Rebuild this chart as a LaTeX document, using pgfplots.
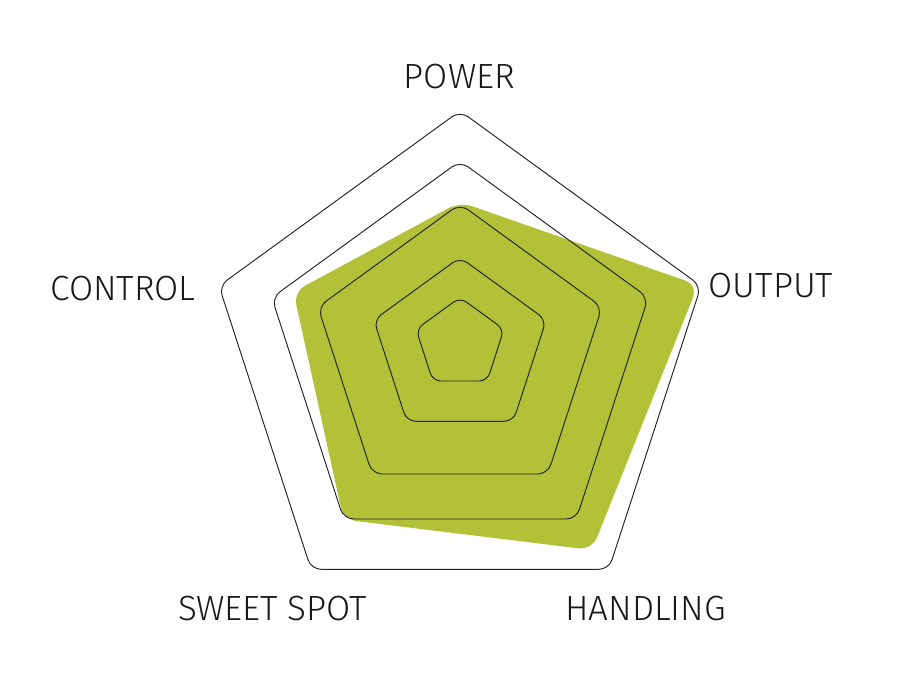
\documentclass[border=0pt]{standalone}
\usepackage{pgfplots}
\pgfplotsset{compat=1.18}
\usepackage{fontspec}
\IfFontExistsTF{Fira Sans Light}{\setmainfont{Fira Sans Light}}{\setmainfont{Fira Sans}}
\definecolor{chartgreen}{RGB}{178,193,55}
\definecolor{gridline}{RGB}{35,35,35}
\definecolor{labeltext}{RGB}{25,25,25}
\begin{document}
\begin{tikzpicture}
\path (0,0) rectangle (916bp,676bp);
\begin{axis}[at={(0,0)}, anchor=south west, scale only axis,
  width=916bp, height=676bp,
  xmin=0, xmax=916, ymin=0, ymax=676, y dir=reverse,
  hide axis, clip=false]
% data polygon (HANDLING, OUTPUT, POWER, CONTROL, SWEET SPOT), starting mid-edge
\addplot[fill=chartgreen, draw=none, mark=none, rounded corners=13bp] coordinates {
  (467.75,534.75) (592,550) (698,285) (460,202) (293.5,292) (343.5,519.5)} -- cycle;
% grid pentagons
\addplot[draw=gridline, line width=0.95bp, mark=none, rounded corners=10bp] coordinates {
  (460,569.3) (608.9,569.3) (701.0,286.0) (460,110.9) (219.0,286.0) (311.1,569.3)} -- cycle;
\addplot[draw=gridline, line width=0.95bp, mark=none, rounded corners=10bp] coordinates {
  (460,519.0) (576.3,519.0) (648.2,297.7) (460,161.0) (271.8,297.7) (343.7,519.0)} -- cycle;
\addplot[draw=gridline, line width=0.95bp, mark=none, rounded corners=10bp] coordinates {
  (460,474.0) (547.8,474.0) (602.0,307.1) (460,203.9) (318.0,307.1) (372.2,474.0)} -- cycle;
\addplot[draw=gridline, line width=0.95bp, mark=none, rounded corners=9bp] coordinates {
  (460,421.3) (513.3,421.3) (546.2,320.0) (460,257.4) (373.8,320.0) (406.7,421.3)} -- cycle;
\addplot[draw=gridline, line width=0.95bp, mark=none, rounded corners=8bp] coordinates {
  (460,381.0) (487.2,381.0) (503.9,329.3) (460,297.4) (416.1,329.3) (432.8,381.0)} -- cycle;
% labels
\tikzset{lab/.style={font=\fontsize{35bp}{35bp}\selectfont, text=labeltext, inner sep=0pt}}
\node[lab] at (axis cs:459.5,77) {POWER};
\node[lab] at (axis cs:771,286) {OUTPUT};
\node[lab] at (axis cs:645.7,609) {HANDLING};
\node[lab] at (axis cs:272.5,609) {SWEET SPOT};
\node[lab] at (axis cs:123,289) {CONTROL};
\end{axis}
\end{tikzpicture}
\end{document}
